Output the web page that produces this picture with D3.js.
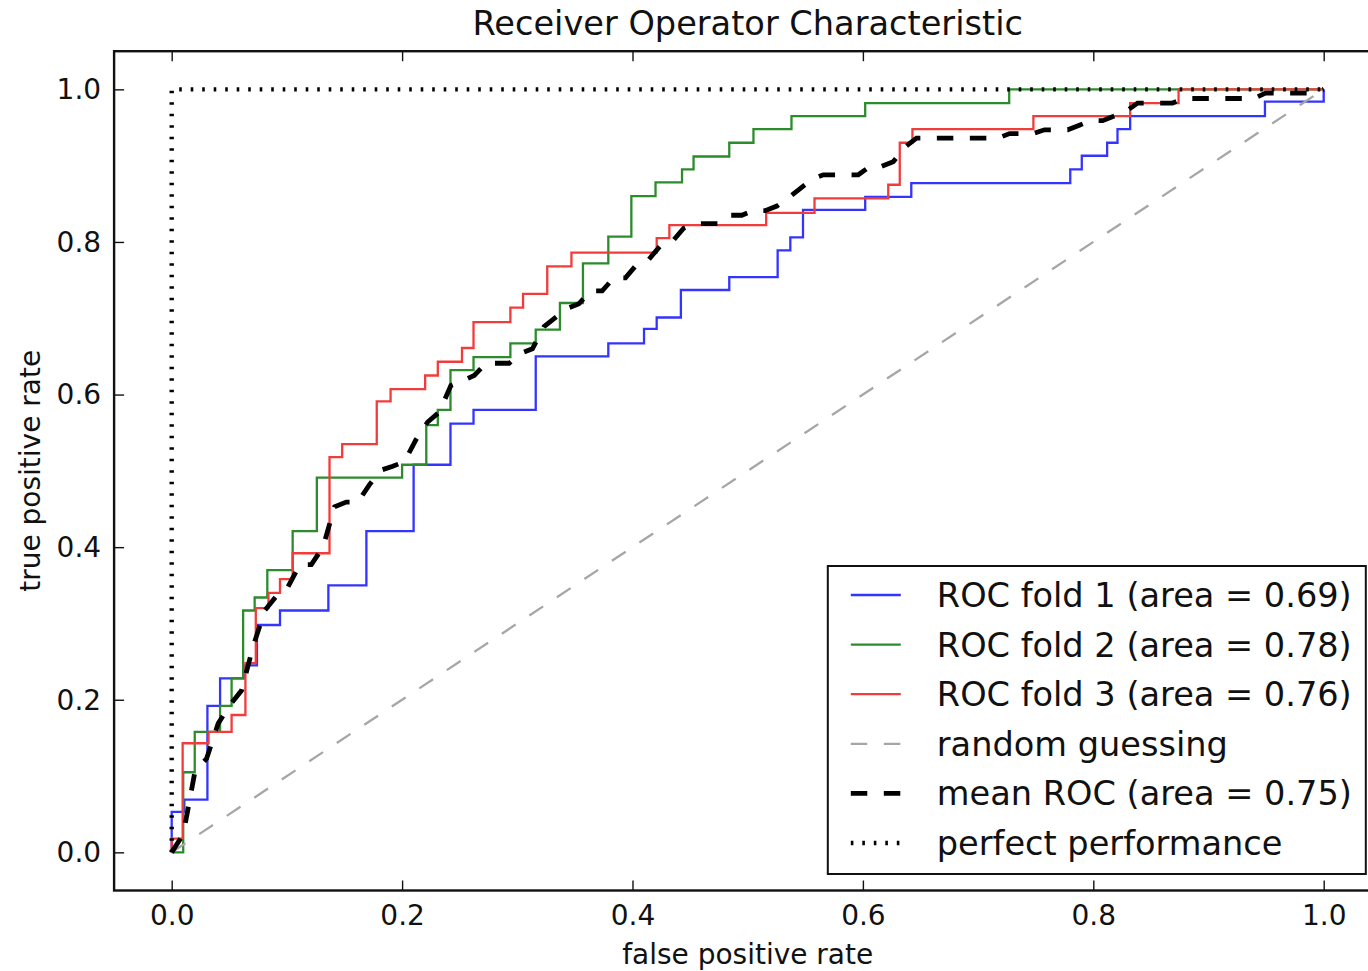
<!DOCTYPE html>
<html>
<head>
<meta charset="utf-8">
<script src="https://cdn.jsdelivr.net/npm/d3@7/dist/d3.min.js"></script>
<style>
  html, body { margin: 0; padding: 0; background: #fff; }
  svg { display: block; }
  text { font-family: "DejaVu Sans", sans-serif; fill: #111; }
</style>
</head>
<body>
<svg id="chart" width="1368" height="971"></svg>
<script>
// ROC curves of three cross-validation folds (points where the curve steps up)
const fold1Fpr = [0, 0, 0.011, 0.031, 0.042, 0.063, 0.074, 0.094, 0.136, 0.169, 0.210, 0.242, 0.262, 0.316, 0.379, 0.410, 0.421, 0.442, 0.484, 0.526, 0.537, 0.548, 0.602, 0.642, 0.780, 0.790, 0.812, 0.821, 0.832, 0.949, 1.0];
const fold1Tpr = [0, 0.053, 0.069, 0.192, 0.228, 0.245, 0.298, 0.317, 0.350, 0.421, 0.508, 0.562, 0.580, 0.650, 0.667, 0.686, 0.701, 0.737, 0.754, 0.789, 0.806, 0.842, 0.859, 0.877, 0.895, 0.913, 0.930, 0.948, 0.965, 0.984, 1.0];

const fold2Fpr = [0, 0.010, 0.020, 0.042, 0.052, 0.062, 0.072, 0.083, 0.105, 0.126, 0.200, 0.221, 0.231, 0.242, 0.262, 0.294, 0.316, 0.337, 0.357, 0.379, 0.399, 0.420, 0.443, 0.453, 0.484, 0.505, 0.538, 0.602, 0.727, 1.0];
const fold2Tpr = [0, 0.105, 0.158, 0.192, 0.228, 0.317, 0.334, 0.370, 0.421, 0.491, 0.508, 0.560, 0.580, 0.632, 0.649, 0.667, 0.685, 0.720, 0.772, 0.807, 0.860, 0.878, 0.895, 0.912, 0.930, 0.948, 0.965, 0.982, 1.0, 1.0];

const fold3Fpr = [0, 0, 0.0095, 0.032, 0.052, 0.064, 0.073, 0.084, 0.094, 0.105, 0.137, 0.148, 0.178, 0.190, 0.220, 0.231, 0.252, 0.262, 0.294, 0.305, 0.326, 0.347, 0.421, 0.432, 0.516, 0.558, 0.622, 0.632, 0.643, 0.748, 0.832, 0.874, 1.0];
const fold3Tpr = [0, 0.018, 0.143, 0.158, 0.180, 0.248, 0.320, 0.340, 0.358, 0.392, 0.518, 0.535, 0.591, 0.607, 0.625, 0.643, 0.661, 0.695, 0.714, 0.732, 0.768, 0.786, 0.805, 0.822, 0.838, 0.857, 0.875, 0.930, 0.948, 0.965, 0.982, 1.0, 1.0];

// Mean ROC over the folds
const meanFpr = [0, 0.0101, 0.0202, 0.0303, 0.0404, 0.0505, 0.0606, 0.0707, 0.0808, 0.0909, 0.1010, 0.1111, 0.1212, 0.1313, 0.1414, 0.1515, 0.1616, 0.1717, 0.1818, 0.1919, 0.2020, 0.2121, 0.2222, 0.2323, 0.2424, 0.2525, 0.2626, 0.2727, 0.2929, 0.3030, 0.3131, 0.3232, 0.3333, 0.3434, 0.3535, 0.3636, 0.3737, 0.3838, 0.3939, 0.4040, 0.4141, 0.4242, 0.4343, 0.4444, 0.4545, 0.4747, 0.4848, 0.4949, 0.5051, 0.5152, 0.5253, 0.5354, 0.5455, 0.5556, 0.5657, 0.5960, 0.6061, 0.6162, 0.6263, 0.6364, 0.6465, 0.7172, 0.7273, 0.7475, 0.7576, 0.7778, 0.7879, 0.7980, 0.8081, 0.8182, 0.8283, 0.8384, 0.8687, 0.8788, 0.9394, 0.9495, 0.9899, 1.0];
const meanTpr = [0, 0.024, 0.106, 0.123, 0.169, 0.193, 0.212, 0.270, 0.317, 0.336, 0.348, 0.377, 0.377, 0.400, 0.453, 0.459, 0.459, 0.482, 0.501, 0.506, 0.512, 0.541, 0.564, 0.577, 0.612, 0.618, 0.625, 0.641, 0.641, 0.654, 0.660, 0.689, 0.701, 0.713, 0.719, 0.736, 0.736, 0.753, 0.753, 0.771, 0.777, 0.795, 0.800, 0.818, 0.824, 0.824, 0.835, 0.835, 0.841, 0.841, 0.847, 0.858, 0.870, 0.882, 0.888, 0.888, 0.899, 0.899, 0.905, 0.924, 0.936, 0.936, 0.942, 0.942, 0.947, 0.947, 0.953, 0.959, 0.959, 0.965, 0.971, 0.982, 0.982, 0.988, 0.988, 0.995, 0.995, 1.0];

// Reference lines
const randomFpr = [0, 1];
const randomTpr = [0, 1];
const perfectFpr = [0, 0, 1];
const perfectTpr = [0, 1, 1];

// Areas under the curves shown in the legend
const foldAuc = [0.69, 0.78, 0.76];
const meanAuc = 0.75;

const xTicks = [0.0, 0.2, 0.4, 0.6, 0.8, 1.0];
const yTicks = [0.0, 0.2, 0.4, 0.6, 0.8, 1.0];

// ---------------------------------------------------------------
const svg = d3.select("#chart");
const x = d3.scaleLinear().domain([-0.05, 1.05]).range([114.1, 1381.3]);
const y = d3.scaleLinear().domain([-0.05, 1.05]).range([890.5, 51.2]);

const plotLeft = x.range()[0], plotRight = x.range()[1];
const plotTop = y.range()[1], plotBottom = y.range()[0];

const tickFont = 28, legendFont = 33.6, titleFont = 33.6;

svg.append("defs").append("clipPath").attr("id", "plotClip")
  .append("rect").attr("x", plotLeft).attr("y", plotTop)
  .attr("width", plotRight - plotLeft).attr("height", plotBottom - plotTop);

const plot = svg.append("g").attr("clip-path", "url(#plotClip)");

const zip = (xs, ys) => xs.map((v, i) => [v, ys[i]]);
const stepLine = d3.line().x(d => x(d[0])).y(d => y(d[1])).curve(d3.curveStepAfter);
const straightLine = d3.line().x(d => x(d[0])).y(d => y(d[1]));

const folds = [
  { fpr: fold1Fpr, tpr: fold1Tpr, color: "#3434ff" },
  { fpr: fold2Fpr, tpr: fold2Tpr, color: "#2c8c2c" },
  { fpr: fold3Fpr, tpr: fold3Tpr, color: "#f23c3c" }
];

folds.forEach(f => {
  plot.append("path")
    .attr("d", stepLine(zip(f.fpr, f.tpr)))
    .attr("fill", "none")
    .attr("stroke", f.color)
    .attr("stroke-width", 2.3)
    .attr("stroke-linejoin", "miter");
});

plot.append("path")
  .attr("d", straightLine(zip(randomFpr, randomTpr)))
  .attr("fill", "none")
  .attr("stroke", "#a6a6a6")
  .attr("stroke-width", 2.3)
  .attr("stroke-dasharray", "16.5,16.5");

plot.append("path")
  .attr("d", straightLine(zip(meanFpr, meanTpr)))
  .attr("fill", "none")
  .attr("stroke", "#000")
  .attr("stroke-width", 4.8)
  .attr("stroke-dasharray", "16.5,16.5");

plot.append("path")
  .attr("d", straightLine(zip(perfectFpr, perfectTpr)))
  .attr("fill", "none")
  .attr("stroke", "#000")
  .attr("stroke-width", 4.4)
  .attr("stroke-dasharray", "2.6,8.9");

// Axes: ticks point inward on all four sides
const fmt = d3.format(".1f");
const styleAxis = (g, dy) => {
  g.select(".domain").remove();
  g.selectAll(".tick line").attr("stroke", "#111").attr("stroke-width", 1.4);
  g.selectAll(".tick text")
    .attr("font-family", "DejaVu Sans")
    .attr("font-size", tickFont)
    .attr("fill", "#111")
    .attr("dy", dy);
};

svg.append("g").attr("transform", `translate(0,${plotBottom})`)
  .call(d3.axisBottom(x).tickValues(xTicks).tickFormat(fmt).tickSize(-10).tickPadding(14.5))
  .call(styleAxis, "0.71em");
svg.append("g").attr("transform", `translate(0,${plotTop})`)
  .call(d3.axisTop(x).tickValues(xTicks).tickFormat("").tickSize(-10))
  .call(styleAxis, null);
svg.append("g").attr("transform", `translate(${plotLeft},0)`)
  .call(d3.axisLeft(y).tickValues(yTicks).tickFormat(fmt).tickSize(-10).tickPadding(13))
  .call(styleAxis, "0.33em");
svg.append("g").attr("transform", `translate(${plotRight},0)`)
  .call(d3.axisRight(y).tickValues(yTicks).tickFormat("").tickSize(-10))
  .call(styleAxis, null);

// Axes frame
svg.append("rect")
  .attr("x", plotLeft).attr("y", plotTop)
  .attr("width", plotRight - plotLeft).attr("height", plotBottom - plotTop)
  .attr("fill", "none").attr("stroke", "#111").attr("stroke-width", 2.4);

// Title and axis labels
svg.append("text")
  .attr("x", (plotLeft + plotRight) / 2).attr("y", 35)
  .attr("text-anchor", "middle").attr("font-size", titleFont)
  .text("Receiver Operator Characteristic");

svg.append("text")
  .attr("x", (plotLeft + plotRight) / 2).attr("y", 964)
  .attr("text-anchor", "middle").attr("font-size", tickFont)
  .text("false positive rate");

svg.append("text")
  .attr("transform", `translate(40,${(plotTop + plotBottom) / 2}) rotate(-90)`)
  .attr("text-anchor", "middle").attr("font-size", tickFont)
  .text("true positive rate");

// Legend (lower right)
const legendItems = [
  { label: `ROC fold 1 (area = ${foldAuc[0].toFixed(2)})`, color: folds[0].color, width: 2.3, dash: null },
  { label: `ROC fold 2 (area = ${foldAuc[1].toFixed(2)})`, color: folds[1].color, width: 2.3, dash: null },
  { label: `ROC fold 3 (area = ${foldAuc[2].toFixed(2)})`, color: folds[2].color, width: 2.3, dash: null },
  { label: "random guessing", color: "#a6a6a6", width: 2.3, dash: "16.5,16.5" },
  { label: `mean ROC (area = ${meanAuc.toFixed(2)})`, color: "#000", width: 4.8, dash: "16.5,16.5" },
  { label: "perfect performance", color: "#000", width: 4.4, dash: "2.6,8.9" }
];

const legW = 538, legH = 308;
const legX = plotRight - 15.5 - legW, legY = plotBottom - 16.5 - legH;
const leg = svg.append("g").attr("transform", `translate(${legX},${legY})`);
leg.append("rect")
  .attr("width", legW).attr("height", legH)
  .attr("fill", "#fff").attr("stroke", "#111").attr("stroke-width", 2);

const rowStep = 49.6, firstRow = 29;
legendItems.forEach((it, i) => {
  const cy = firstRow + i * rowStep;
  const ln = leg.append("line")
    .attr("x1", 23).attr("x2", 73).attr("y1", cy).attr("y2", cy)
    .attr("stroke", it.color).attr("stroke-width", it.width);
  if (it.dash) ln.attr("stroke-dasharray", it.dash);
  leg.append("text")
    .attr("x", 109).attr("y", cy + 12)
    .attr("font-size", legendFont)
    .text(it.label);
});
</script>
</body>
</html>
